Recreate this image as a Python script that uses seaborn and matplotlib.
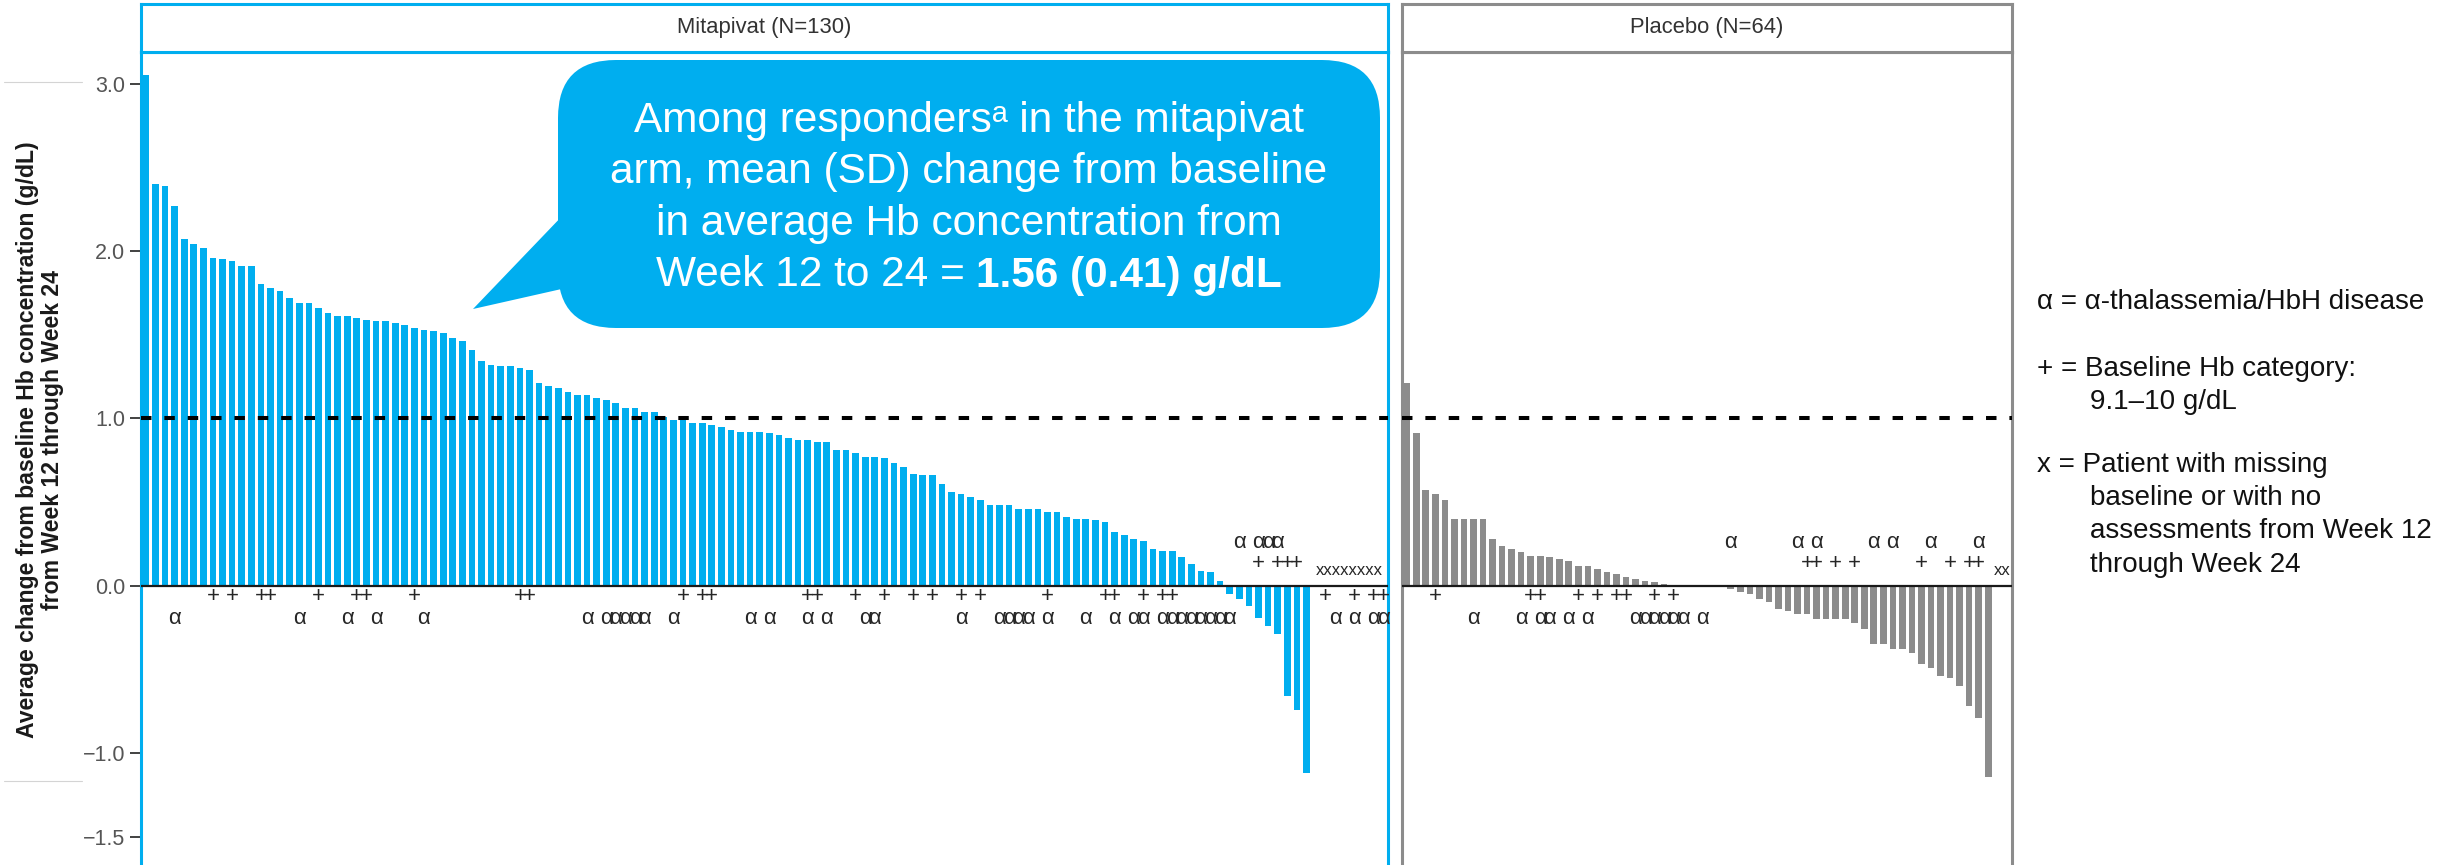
import numpy as np
import pandas as pd
import matplotlib
matplotlib.use("Agg")
import matplotlib.pyplot as plt
import seaborn as sns
from matplotlib.patches import FancyBboxPatch, Polygon
from matplotlib.lines import Line2D

sns.set_theme(style="white")
plt.rcParams['font.family'] = ['Liberation Sans', 'DejaVu Sans']

# ---------------- data ----------------
mit_title = "Mitapivat (N=130)"
mit_n = 130
mit_values = [
    3.05, 2.40, 2.39, 2.27, 2.07, 2.04, 2.02, 1.96, 1.95, 1.94,
    1.91, 1.91, 1.80, 1.78, 1.76, 1.72, 1.69, 1.69, 1.66, 1.63,
    1.61, 1.61, 1.60, 1.59, 1.58, 1.58, 1.57, 1.56, 1.54, 1.53,
    1.52, 1.51, 1.48, 1.46, 1.41, 1.34, 1.32, 1.31, 1.31, 1.30,
    1.29, 1.21, 1.19, 1.18, 1.16, 1.14, 1.14, 1.12, 1.11, 1.09,
    1.06, 1.06, 1.04, 1.04, 1.01, 0.99, 0.99, 0.97, 0.97, 0.96,
    0.95, 0.93, 0.92, 0.92, 0.92, 0.91, 0.90, 0.88, 0.87, 0.87,
    0.86, 0.86, 0.81, 0.81, 0.79, 0.77, 0.77, 0.76, 0.73, 0.71,
    0.67, 0.66, 0.66, 0.61, 0.56, 0.55, 0.53, 0.51, 0.48, 0.48,
    0.48, 0.46, 0.46, 0.46, 0.44, 0.44, 0.41, 0.40, 0.40, 0.39,
    0.38, 0.32, 0.30, 0.28, 0.27, 0.22, 0.21, 0.21, 0.17, 0.13,
    0.09, 0.08, 0.03,
    -0.05, -0.08, -0.12, -0.19, -0.24, -0.29, -0.66, -0.74, -1.12,
]
mit_missing = [123, 124, 125, 126, 127, 128, 129, 130]
mit_plus_below = [8, 10, 13, 14, 19, 23, 24, 29, 40, 41, 57, 59, 60, 70, 71, 75,
                  78, 81, 83, 86, 88, 95, 101, 102, 105, 107, 108,
                  124, 127, 129, 130]
mit_alpha_below = [4, 17, 22, 25, 30, 47, 49, 50, 51, 52, 53, 56, 64, 66, 70, 72,
                   76, 77, 86, 90, 91, 92, 93, 95, 99, 102, 104, 105,
                   107, 108, 109, 110, 111, 112, 113, 114,
                   125, 127, 129, 130]
mit_alpha_above = [115, 117, 118, 119]
mit_plus_above = [117, 119, 120, 121]

pla_title = "Placebo (N=64)"
pla_n = 64
pla_values = [
    1.21, 0.91, 0.57, 0.55, 0.51, 0.40, 0.40, 0.40, 0.40, 0.28,
    0.24, 0.22, 0.20, 0.18, 0.18, 0.17, 0.16, 0.15, 0.12, 0.12,
    0.10, 0.08, 0.07, 0.05, 0.04, 0.03, 0.02, 0.01,
    0.0, 0.0, 0.0, 0.0, 0.0, 0.0,
    -0.02, -0.04, -0.05, -0.08, -0.10, -0.14, -0.15, -0.17, -0.17, -0.20,
    -0.20, -0.20, -0.20, -0.22, -0.26, -0.35, -0.35, -0.38, -0.38, -0.40,
    -0.47, -0.49, -0.54, -0.55, -0.60, -0.72, -0.79, -1.14,
]
pla_missing = [63, 64]
pla_plus_below = [4, 14, 15, 19, 21, 23, 24, 27, 29]
pla_alpha_below = [8, 13, 15, 16, 18, 20, 25, 26, 27, 28, 29, 30, 32]
pla_alpha_above = [35, 42, 44, 50, 52, 56, 61]
pla_plus_above = [43, 44, 46, 48, 55, 58, 60, 61]

y_ticks = [3.0, 2.0, 1.0, 0.0, -1.0, -1.5]
response_threshold = 1.0
y_label = "Average change from baseline Hb concentration (g/dL)\nfrom Week 12 through Week 24"

bubble_lines = ["Among responders\u1d43 in the mitapivat",
                "arm, mean (SD) change from baseline",
                "in average Hb concentration from"]
bubble_last_regular = "Week 12 to 24 ="
bubble_last_bold = "1.56 (0.41) g/dL"

legend_lines = [
    ("\u03b1 = \u03b1-thalassemia/HbH disease", 0),
    ("+ = Baseline Hb category:", 0),
    ("9.1\u201310 g/dL", 1),
    ("x = Patient with missing", 0),
    ("baseline or with no", 1),
    ("assessments from Week 12", 1),
    ("through Week 24", 1),
]

# ---------------- style / layout ----------------
W, H = 2440, 865
BLUE = "#00AEEF"
GREY = "#8C8C8C"
V0_PX, PX_PER_UNIT = 585.7, 167.4
Y_TOP = (V0_PX - 52) / PX_PER_UNIT
Y_BOT = (V0_PX - 866) / PX_PER_UNIT
PLUS_BELOW_Y, ALPHA_BELOW_Y = -0.066, -0.195
ALPHA_ABOVE_Y, PLUS_ABOVE_Y, X_ROW_Y = 0.258, 0.132, 0.092
MARK_FS = 16

fig = plt.figure(figsize=(W / 100, H / 100), dpi=100)


def px_rect(x0, y0, x1, y1):
    return [x0 / W, 1 - y1 / H, (x1 - x0) / W, (y1 - y0) / H]


def draw_panel(x0, x1, values, n_total, missing, plus_below, alpha_below,
               plus_above, alpha_above, color, frame, title, show_y):
    ax = fig.add_axes(px_rect(x0, 52, x1, 866))
    hax = fig.add_axes(px_rect(x0, 4, x1, 52))
    df = pd.DataFrame({"slot": np.arange(1, len(values) + 1), "value": values})
    sns.barplot(data=df, x="slot", y="value", order=list(range(1, n_total + 1)),
                color=color, saturation=1, width=0.7, errorbar=None,
                linewidth=0, ax=ax)
    ax.set_xlim(-0.5, n_total - 0.5)
    ax.set_ylim(Y_BOT, Y_TOP)
    ax.set_xlabel("")
    ax.set_ylabel("")
    ax.set_xticks([])
    ax.axhline(0, color="#1a1a1a", lw=1.6, zorder=3)
    ax.axhline(response_threshold, color="black", lw=2.9, dashes=(2.6, 3.2), zorder=4)
    for s in plus_below:
        ax.text(s - 1, PLUS_BELOW_Y, "+", ha="center", va="center", fontsize=MARK_FS)
    for s in alpha_below:
        ax.text(s - 1, ALPHA_BELOW_Y, "\u03b1", ha="center", va="center", fontsize=MARK_FS)
    for s in plus_above:
        ax.text(s - 1, PLUS_ABOVE_Y, "+", ha="center", va="center", fontsize=MARK_FS)
    for s in alpha_above:
        ax.text(s - 1, ALPHA_ABOVE_Y, "\u03b1", ha="center", va="center", fontsize=MARK_FS)
    if missing:
        ax.text(np.mean(missing) - 1, X_ROW_Y, "x" * len(missing), ha="center",
                va="center", fontsize=12)
    for name, sp in ax.spines.items():
        sp.set_color(frame)
        sp.set_linewidth(2.2)
    ax.spines["bottom"].set_visible(False)
    if show_y:
        ax.set_yticks(y_ticks)
        ax.set_yticklabels([f"{v:.1f}".replace("-", "\u2212") for v in y_ticks])
        ax.tick_params(axis="y", left=True, length=8, width=1.3, color="#333333",
                       labelsize=15.5, labelcolor="#555555", pad=3.5)
    else:
        ax.set_yticks([])
    hax.set_xticks([])
    hax.set_yticks([])
    for sp in hax.spines.values():
        sp.set_color(frame)
        sp.set_linewidth(2.2)
    hax.text(0.5, 0.5, title, transform=hax.transAxes, ha="center", va="center",
             fontsize=15.8, color="#333333")
    return ax


ax1 = draw_panel(141, 1388, mit_values, mit_n, mit_missing, mit_plus_below,
                 mit_alpha_below, mit_plus_above, mit_alpha_above, BLUE, BLUE,
                 mit_title, True)
ax2 = draw_panel(1402, 2012, pla_values, pla_n, pla_missing, pla_plus_below,
                 pla_alpha_below, pla_plus_above, pla_alpha_above, GREY, GREY,
                 pla_title, False)

# y label (condensed bold face if available)
ylab = fig.text(40 / W, 1 - 440 / H, y_label, rotation=90, ha="center", va="center",
                fontsize=19.5, fontweight="bold", color="#1a1a1a", linespacing=1.05,
                multialignment="center",
                family=["Liberation Sans Narrow", "Liberation Sans", "DejaVu Sans"])
renderer = fig.canvas.get_renderer()
lab_len = ylab.get_window_extent(renderer).height
if lab_len > 640:  # narrow face missing: fall back to regular bold at matching length
    ylab.set_fontsize(16.6)
    ylab.set_linespacing(1.15)

# overlay in pixel coordinates for the callout bubble
ov = fig.add_axes([0, 0, 1, 1], zorder=10)
ov.set_xlim(0, W)
ov.set_ylim(H, 0)
ov.axis("off")
ov.patch.set_alpha(0)
ov.add_patch(FancyBboxPatch((558, 60), 822, 268,
                            boxstyle="round,pad=0,rounding_size=58",
                            fc=BLUE, ec="none"))
ov.add_patch(Polygon([(473, 309), (566, 212), (566, 288)], closed=True,
                     fc=BLUE, ec="none"))
BFS = 30.5
cx = 969
baselines = [131.7, 183.3, 235.0, 286.5]
for line, yb in zip(bubble_lines, baselines[:3]):
    ov.text(cx, yb, line, ha="center", va="baseline", fontsize=BFS, color="white")
t1 = ov.text(0, baselines[3], bubble_last_regular, ha="left", va="baseline",
             fontsize=BFS, color="white")
t2 = ov.text(0, baselines[3], bubble_last_bold, ha="left", va="baseline",
             fontsize=BFS, color="white", fontweight="bold")
w1 = t1.get_window_extent(renderer).width
w2 = t2.get_window_extent(renderer).width
gap = 0.278 * BFS * 100 / 72
start = cx - (w1 + gap + w2) / 2
t1.set_x(start)
t2.set_x(start + w1 + gap)

# faint guide lines at far left
for yy in (81.5, 781):
    ov.add_line(Line2D([4, 82], [yy, yy], color="#d4d4d4", lw=0.8))

# legend / key text on the right
leg_base = [309.3, 376.0, 409.3, 471.7, 505.0, 538.3, 571.7]
for (txt, indent), yb in zip(legend_lines, leg_base):
    ov.text(2037 + (53 if indent else 0), yb, txt, ha="left", va="baseline",
            fontsize=20, color="#111111")

fig.savefig("out.png", dpi=100)
